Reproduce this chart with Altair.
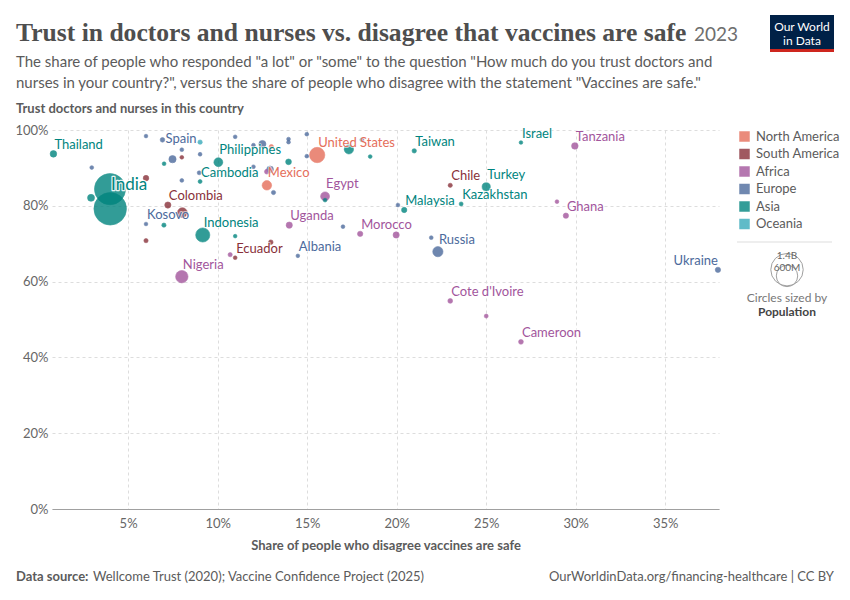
import math
import altair as alt
import pandas as pd

# ---------------- data ----------------
labels = [
    "Thailand", "", "India", "", "", "", "Colombia", "", "Kosovo", "", "",
    "Indonesia", "", "Ecuador", "", "", "Uganda", "Albania", "Nigeria", "",
    "Spain", "", "", "", "", "", "", "", "", "Cambodia", "Philippines", "",
    "", "", "", "", "", "", "", "", "", "", "", "Mexico", "",
    "United States", "", "", "", "Egypt", "", "Taiwan", "Israel", "Tanzania",
    "Chile", "Turkey", "Kazakhstan", "Malaysia", "", "", "Morocco", "", "",
    "Russia", "Ghana", "", "Cote d'Ivoire", "", "Cameroon", "Ukraine",
]
continent = [
    "Asia", "Europe", "Asia", "Asia", "Asia", "South America", "South America",
    "South America", "Europe", "Asia", "South America",
    "Asia", "Asia", "South America", "Africa", "South America", "Africa", "Europe", "Africa", "Europe",
    "Europe", "Oceania", "Europe", "Europe", "Europe", "South America", "Asia", "Europe", "Europe", "Asia", "Asia", "Europe",
    "Europe", "Europe", "North America", "Europe", "Europe", "Asia", "Europe", "Europe", "Europe", "Europe", "Africa", "North America", "Europe",
    "North America", "Asia", "Europe", "Asia", "Africa", "Asia", "Asia", "Asia", "Africa",
    "South America", "Asia", "Asia", "Asia", "Europe", "Europe", "Africa", "Africa", "Europe",
    "Europe", "Africa", "Africa", "Africa", "Africa", "Africa", "Europe",
]
disagree = [
    0.83, 2.97, 3.99, 4.0, 2.93, 6.0, 7.22, 8.03, 6.0, 7.0, 6.0,
    9.17, 10.98, 10.98, 10.7, 12.97, 14.0, 14.48, 8.0, 6.0,
    6.92, 9.02, 8.0, 9.02, 7.48, 8.0, 7.01, 8.0, 8.97, 9.02, 10.04, 10.98,
    12.0, 12.5, 13.0, 13.96, 13.96, 13.96, 14.98, 14.98, 12.0, 12.93, 12.75, 12.75, 13.12,
    15.56, 17.33, 18.06, 18.52, 16.0, 16.0, 20.98, 26.94, 29.95,
    22.99, 25.0, 23.6, 20.42, 20.07, 17.0, 17.96, 19.97, 21.93,
    22.3, 29.45, 28.95, 22.99, 25.0, 26.94, 37.94,
]
trust = [
    93.7, 90.1, 84.4, 79.2, 82.1, 87.3, 80.2, 78.2, 75.2, 74.9, 70.8,
    72.3, 72.0, 66.3, 67.1, 70.4, 74.9, 66.8, 61.3, 98.4,
    97.4, 96.8, 94.8, 93.6, 92.3, 92.8, 91.1, 86.7, 88.7, 86.4, 91.5, 98.2,
    96.0, 96.3, 95.6, 97.6, 96.8, 91.6, 98.9, 93.1, 90.3, 89.6, 89.0, 85.4, 83.5,
    93.4, 94.9, 97.4, 93.0, 82.5, 81.5, 94.5, 96.7, 95.8,
    85.4, 85.0, 80.5, 78.9, 80.2, 74.5, 72.6, 72.3, 71.6,
    67.9, 77.4, 81.1, 54.9, 50.9, 44.1, 63.1,
]
population = [
    42, 3, 1290, 1410, 50, 25, 36, 112, 2, 8, 8,
    254, 2, 3, 8, 12, 36, 2, 191, 2,
    12, 10, 3, 3, 55, 3, 3, 3, 5, 5, 90, 3,
    3, 52, 10, 3, 3, 28, 3, 3, 3, 45, 15, 105, 8,
    300, 100, 5, 3, 90, 3, 10, 2, 42,
    8, 75, 5, 22, 3, 3, 22, 36, 3,
    125, 22, 3, 15, 5, 15, 22,
]

continents = ["North America", "South America", "Africa", "Europe", "Asia", "Oceania"]
continent_colors = ["#E56E5A", "#883039", "#A2559C", "#4C6A9C", "#00847E", "#38AABA"]
x_ticks = [5, 10, 15, 20, 25, 30, 35]
y_ticks = [0, 20, 40, 60, 80, 100]
size_legend_values = [1400, 600]

df = pd.DataFrame({
    "label": labels, "continent": continent, "disagree": disagree,
    "trust": trust, "pop": population,
})

# ---------------- scales ----------------
SIZE_MIN, SIZE_MAX, POP_MAX = 12, 1052, 1400
size_scale = alt.Scale(domain=[0, POP_MAX], range=[SIZE_MIN, SIZE_MAX])
color_scale = alt.Scale(domain=continents, range=continent_colors)
GRAY = "#5b5b5b"
FONT = "Lato"

x_enc = alt.X(
    "disagree:Q",
    scale=alt.Scale(domain=[0.75, 38.0], nice=False, zero=False),
    axis=alt.Axis(
        values=x_ticks, labelExpr="datum.value + '%'",
        title="Share of people who disagree vaccines are safe",
        grid=True, gridDash=[3, 3], gridColor="#dddddd",
        domain=True, domainColor="#a0a0a0", ticks=False,
        labelPadding=8, labelFontSize=13, labelColor="#666666", labelFont=FONT,
        titleFont=FONT, titleFontSize=13, titleFontWeight="bold", titleColor=GRAY,
        titlePadding=9,
    ),
)
y_enc = alt.Y(
    "trust:Q",
    scale=alt.Scale(domain=[0, 100], nice=False),
    axis=alt.Axis(
        values=y_ticks, labelExpr="datum.value + '%'", title=None,
        grid=True, gridDash=[3, 3], gridColor="#dddddd",
        domain=False, ticks=False, labelPadding=4,
        labelFontSize=13, labelColor="#666666", labelFont=FONT,
    ),
)
legend = alt.Legend(
    title=None, orient="none", legendX=686, legendY=0, direction="vertical",
    symbolType="square", symbolSize=110, symbolOpacity=0.8, symbolStrokeWidth=0,
    labelFont=FONT, labelFontSize=13, labelColor=GRAY, labelOffset=5,
    rowPadding=3.5, padding=0,
)
color_enc = alt.Color("continent:N", scale=color_scale, legend=legend)

base = alt.Chart(df)

points = base.mark_circle(opacity=0.8, strokeWidth=0.6).encode(
    x=x_enc, y=y_enc,
    size=alt.Size("pop:Q", scale=size_scale, legend=None),
    color=color_enc,
    stroke=alt.Stroke("continent:N", scale=color_scale, legend=None),
    order=alt.Order("pop:Q", sort="descending"),
)

big_names = ["Philippines", "Mexico", "United States", "Egypt", "Turkey",
             "Russia", "Nigeria", "Indonesia"]
special = big_names + ["India", "Ukraine", "Spain"]
special_js = "[" + ", ".join('"' + s + '"' for s in special) + "]"


def label_layers(pred, halo_width=2, halo_opacity=0.6, **kw):
    opts = dict(align="left", baseline="bottom", font=FONT, fontSize=13, dx=1)
    opts.update(kw)
    src = base.transform_filter(
        "isValid(datum.label) && length(datum.label) > 0"
    ).transform_filter(pred)
    halo = src.mark_text(stroke="white", strokeWidth=halo_width, strokeJoin="round",
                         strokeOpacity=halo_opacity, fillOpacity=0, **opts).encode(
        x=x_enc, y=y_enc, text="label:N")
    fg = src.mark_text(**opts).encode(
        x=x_enc, y=y_enc, text="label:N", color=color_enc)
    return [halo, fg]


label_groups = (
    label_layers("indexof(" + special_js + ", datum.label) < 0", dy=-2)
    + label_layers(alt.FieldOneOfPredicate(field="label", oneOf=big_names), dy=-5)
    + label_layers(alt.FieldEqualPredicate(field="label", equal="Ukraine"),
                   align="right", dx=0, dy=-2)
    + label_layers(alt.FieldEqualPredicate(field="label", equal="Spain"),
                   baseline="middle", dx=3, dy=-1)
    + label_layers(alt.FieldEqualPredicate(field="label", equal="India"),
                   halo_width=2.5, halo_opacity=0.9, fontSize=17, dy=5)
)


def txt(s, x, y, **kw):
    opts = dict(align="left", baseline="middle", font=FONT, fontSize=13, color=GRAY)
    opts.update(kw)
    return alt.Chart(alt.Data(values=[{"t": s}])).mark_text(**opts).encode(
        x=alt.value(x), y=alt.value(y), text="t:N")


def box(x, x2, y, y2, color):
    return alt.Chart(alt.Data(values=[{"a": 1}])).mark_rect(color=color).encode(
        x=alt.value(x), x2=alt.value(x2), y=alt.value(y), y2=alt.value(y2))


# size legend (nested circles)
SL_X, SL_BOTTOM = 735, 158
size_layers = []
for v in size_legend_values:
    r = math.sqrt((SIZE_MIN + (SIZE_MAX - SIZE_MIN) * v / POP_MAX) / math.pi)
    size_layers.append(
        alt.Chart(alt.Data(values=[{"pop": v}])).mark_point(
            filled=False, shape="circle", color="#a0a0a0", strokeWidth=1, opacity=1
        ).encode(x=alt.value(SL_X), y=alt.value(SL_BOTTOM - r),
                 size=alt.Size("pop:Q", scale=size_scale, legend=None))
    )
sep = alt.Chart(alt.Data(values=[{"a": 1}])).mark_rule(color="#dddddd").encode(
    x=alt.value(685), x2=alt.value(780), y=alt.value(112))

decor = [
    txt("Trust in doctors and nurses vs. disagree that vaccines are safe", -36, -89,
        baseline="alphabetic", font="Liberation Serif", fontSize=25.6, fontWeight=600,
        color="#4e4e4e"),
    txt("2023", 642, -89, baseline="alphabetic", fontSize=19, color="#6e6e6e"),
    txt('The share of people who responded "a lot" or "some" to the question "How much do you trust doctors and',
        -36, -68, fontSize=15),
    txt('nurses in your country?", versus the share of people who disagree with the statement "Vaccines are safe."',
        -36, -47, fontSize=15),
    txt("Trust doctors and nurses in this country", -36, -21, fontWeight="bold"),
    txt("Data source:", -36, 447, fontWeight="bold"),
    txt("Wellcome Trust (2020); Vaccine Confidence Project (2025)", 41, 447),
    txt("OurWorldinData.org/financing-healthcare | CC BY", 782, 447, align="right"),
    txt("1.4B", SL_X, 126, align="center", fontSize=10, color="#666666"),
    txt("600M", SL_X, 138, align="center", fontSize=10, color="#666666"),
    txt("Circles sized by", SL_X, 168, align="center", fontSize=12, color="#777777"),
    txt("Population", SL_X, 182, align="center", fontSize=12, fontWeight="bold",
        color="#444444"),
    box(718, 782, -115, -78, "#002147"),
    box(718, 782, -81, -78, "#ce261e"),
    txt("Our World", 750, -103, align="center", fontSize=12, color="#ffffff"),
    txt("in Data", 750, -89, align="center", fontSize=12, color="#ffffff"),
]

chart = alt.layer(
    points, *label_groups, sep, *size_layers, *decor
).properties(
    width=667, height=379,
    padding={"left": 44, "top": 122, "right": 123, "bottom": 78},
    autosize=alt.AutoSizeParams(type="none"),
).configure_view(stroke=None)

chart.save("out.html", embed_options={"renderer": "svg", "actions": False})
